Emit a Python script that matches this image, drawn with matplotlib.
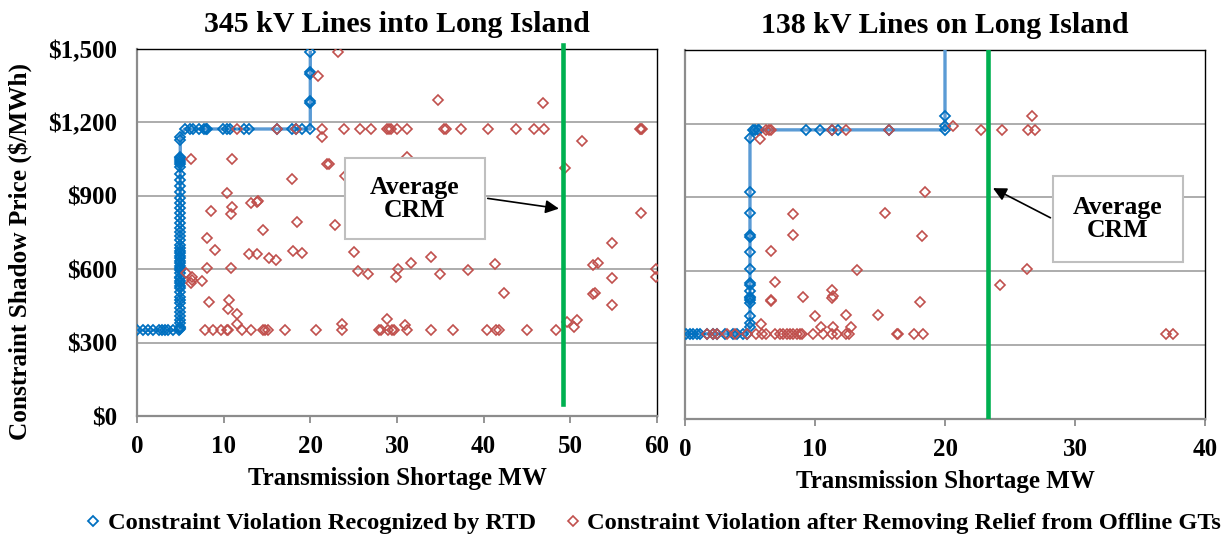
import matplotlib
matplotlib.use("Agg")
import matplotlib.pyplot as plt
from matplotlib.lines import Line2D
from matplotlib.patches import Rectangle
from matplotlib.ticker import FuncFormatter

plt.rcParams["font.family"] = ["Liberation Serif", "DejaVu Serif"]
plt.rcParams["font.weight"] = "bold"

# ---- 345 kV (left panel) ----
# RTD series, read in order along the step: low flat run, x=5 climb,
# flat run at ~$1,173, then the climb at x=20
rtd_345_flat_x = [0, 0.73, 1.3, 1.9, 2.5, 2.85, 3.2, 3.6, 4.2, 4.8]
rtd_345_vert_y = [355, 360, 365, 380, 392, 410, 426, 440, 461, 475, 488, 505, 522,
                  530, 542, 550, 563, 570, 583, 595, 604, 615, 624, 635, 644, 655,
                  665, 675, 685, 700, 719, 735, 753, 770, 787, 810, 828, 850, 869,
                  890, 917, 940, 964, 990, 1019, 1030, 1039, 1045, 1053, 1060, 1128, 1141]
rtd_345_top_x = [5.5, 6.1, 6.5, 7.2, 7.7, 8.0, 8.1, 9.96, 10.35, 10.7, 12.3, 12.95,
                 16.2, 17.85, 18.35, 19.1, 20.0]
rtd_345_end_y = [1278, 1287, 1396, 1407, 1486]

rtd_345_x = (rtd_345_flat_x + [5.0] * len(rtd_345_vert_y) + rtd_345_top_x
             + [20.0] * len(rtd_345_end_y))
rtd_345_y = ([350] * len(rtd_345_flat_x) + rtd_345_vert_y
             + [1173] * len(rtd_345_top_x) + rtd_345_end_y)

gt_345_x = [20.85, 21.3, 21.4, 21.9, 11.6, 16.2, 18.4, 6.23, 11.0, 17.9, 10.4,
            10.96, 10.85, 8.6, 13.15, 13.9, 14.0, 18.5, 14.6, 8.04, 9.0, 12.9,
            13.9, 15.2, 16.1, 18.0, 19.0, 8.04, 10.9, 5.65, 6.3, 6.4, 6.23, 7.5,
            8.3, 10.6, 10.5, 11.6, 11.6,
            7.9, 8.8, 9.65, 10.35, 10.45, 12.1, 13.15, 14.5, 14.8, 15.1, 17.1, 20.6,
            23.2, 34.7, 46.8,
            23.9, 25.7, 27.0, 28.9, 29.1, 29.3, 30.0, 31.2, 35.4, 35.6, 37.35,
            40.5, 43.7, 45.8, 47.0, 58.0, 58.2, 58.3,
            51.4, 31.1, 22.1, 49.4, 24.0, 58.15, 22.85,
            25.0, 25.5, 26.6, 30.1, 29.85, 31.6, 33.9, 35.0, 38.15, 41.35, 42.3,
            54.8, 52.65, 53.15, 54.8, 52.65, 52.8, 54.8, 59.9, 59.9, 49.6, 50.8, 50.4,
            23.6, 27.95, 28.2, 29.0, 29.4, 29.7, 31.1, 33.9, 36.5, 40.4, 41.4,
            41.8, 45.0, 48.4,
            23.6, 28.8, 30.9]
gt_345_y = [1391, 1173, 1141, 1030, 1173, 1173, 1173, 1049, 1052, 967, 913,
            855, 825, 838, 872, 875, 878, 791, 759, 726, 678, 661,
            661, 644, 636, 673, 668, 605, 606, 584, 569, 555, 545, 552,
            466, 474, 439, 417, 376,
            350, 350, 350, 350, 350, 350, 350, 350, 350, 350, 350, 350,
            1486, 1290, 1278,
            1173, 1173, 1173, 1173, 1173, 1173, 1173, 1173, 1173, 1173, 1173,
            1173, 1173, 1173, 1173, 1173, 1173, 1173,
            1124, 1057, 1028, 1012, 981, 828, 779,
            669, 594, 580, 601, 568, 627, 648, 580, 597, 623, 501,
            706, 616, 627, 564, 497, 502, 455, 600, 570, 383, 392, 362,
            350, 350, 350, 350, 350, 350, 350, 350, 350, 350, 350,
            350, 350, 350,
            375, 395, 372]
crm_345 = 49.2

# ---- 138 kV (right panel) ----
rtd_138_x = [0.08, 0.38, 0.64, 0.9, 1.15, 1.67, 2.18, 2.44, 3.08, 3.72, 3.97,
             4.49, 4.75,
             5.0, 5.0, 5.0, 5.0, 5.0, 5.0, 5.0, 5.0, 5.0, 5.0, 5.0, 5.0, 5.0,
             5.0, 5.0, 5.0, 5.0,
             5.2, 5.4, 5.6, 5.7, 9.3, 10.4, 11.3, 11.75, 15.7,
             20.0, 20.0, 20.0, 20.0]
rtd_138_y = [345, 345, 345, 345, 345, 345, 345, 345, 345, 345, 345, 345, 345,
             372, 388, 418, 469, 483, 490, 496, 521, 544, 553, 609, 679, 740,
             746, 836, 922, 1141,
             1175, 1175, 1175, 1175, 1175, 1175, 1175, 1175, 1175,
             1175, 1191, 1233, 1700]

gt_138_x = [20.6, 5.77, 6.2, 6.5, 6.6, 11.3, 12.4, 15.7, 22.8, 24.4, 26.4, 26.9,
            26.7, 18.5, 8.33, 15.4, 8.33, 18.2, 6.6, 13.2, 6.9, 6.6, 6.65, 9.05,
            11.3, 11.4, 11.3, 18.1, 10.0, 12.35, 14.85, 5.87, 10.5, 11.4, 12.8,
            26.3, 24.25,
            1.67, 2.18, 2.44, 3.2, 3.85, 4.75, 5.5, 5.9, 6.2, 6.9, 7.3, 7.56,
            7.87, 8.1, 8.33, 8.6, 8.85, 8.97, 9.87, 10.6, 11.3, 11.7, 12.4, 12.6,
            16.3, 16.4, 17.6, 18.3, 37.0, 37.5]
gt_138_y = [1191, 1139, 1175, 1175, 1175, 1175, 1175, 1175, 1173, 1173, 1173, 1173,
            1233, 922, 833, 836, 746, 743, 681, 605, 555, 483, 478, 495,
            523, 499, 489, 475, 418, 420, 420, 386, 374, 374, 372,
            609, 545,
            345, 345, 345, 345, 345, 345, 345, 345, 345, 345, 345, 345,
            345, 345, 345, 345, 345, 345, 345, 345, 345, 345, 345, 345,
            345, 345, 345, 345, 345, 345]
crm_138 = 23.3

BLUE_LINE = "#5b9bd5"
BLUE = "#0070c0"
RED = "#c0504d"
GREEN = "#00b050"

fig = plt.figure(figsize=(12.26, 5.37), dpi=100)
ax1 = fig.add_axes([0.1117, 0.2253, 0.4242, 0.6835])
ax2 = fig.add_axes([0.5587, 0.2205, 0.4242, 0.6864])


def style(ax, xmax, title):
    ax.set_xlim(0, xmax)
    ax.set_ylim(0, 1500)
    ax.set_xticks(range(0, xmax + 1, 10))
    ax.set_yticks(range(0, 1501, 300))
    ax.yaxis.set_major_formatter(FuncFormatter(lambda v, p: "${:,.0f}".format(v)))
    ax.grid(axis="y", color="#a6a6a6", lw=1.3)
    ax.set_axisbelow(True)
    for s in ["left", "bottom"]:
        ax.spines[s].set_color("#8c8c8c")
        ax.spines[s].set_linewidth(1.6)
    for s in ["top", "right"]:
        ax.spines[s].set_color("black")
        ax.spines[s].set_linewidth(1.0)
    ax.tick_params(axis="x", length=5, width=1.3, color="#8c8c8c", pad=9, labelsize=18)
    ax.tick_params(axis="y", length=0, pad=14, labelsize=18)
    ax.set_title(title, fontsize=21.5, fontweight="bold", pad=12)
    ax.set_xlabel("Transmission Shortage MW", fontsize=18, fontweight="bold")
    ax.xaxis.label.set_va("center")
    ax.xaxis.set_label_coords(0.5, -0.17)


def draw(ax, rx, ry, gx, gy):
    ax.plot(rx, ry, color=BLUE_LINE, lw=2.4, marker="D", ms=5, mfc="none",
            mec=BLUE, mew=1.3, zorder=3)
    ax.plot(gx, gy, ls="none", marker="D", ms=5, mfc="none", mec=RED,
            mew=1.2, zorder=4)


style(ax1, 60, "345 kV Lines into Long Island")
style(ax2, 40, "138 kV Lines on Long Island")
ax2.tick_params(axis="y", labelleft=False)

draw(ax1, rtd_345_x, rtd_345_y, gt_345_x, gt_345_y)
draw(ax2, rtd_138_x, rtd_138_y, gt_138_x, gt_138_y)

ax1.axvline(crm_345, ymin=0.033, ymax=1.01, color=GREEN, lw=3.3, zorder=5, clip_on=False)
ax2.axvline(crm_138, ymin=0.0, ymax=1.0, color=GREEN, lw=3.3, zorder=5)

# callout boxes
ax1.add_patch(Rectangle((24.0, 723), 16.15, 331, fc="white", ec="#bfbfbf", lw=1.5, zorder=6))
ax1.text(32.07, 888, "Average\nCRM", ha="center", va="center", fontsize=18.5,
         fontweight="bold", linespacing=1.0, zorder=7)
ax1.annotate("", xy=(crm_345 - 0.2, 846), xytext=(40.15, 891),
             arrowprops=dict(arrowstyle="-|>", color="black", lw=1.2, mutation_scale=20),
             zorder=7)

ax2.add_patch(Rectangle((28.3, 637), 10.0, 350, fc="white", ec="#bfbfbf", lw=1.5, zorder=6))
ax2.text(33.3, 812, "Average\nCRM", ha="center", va="center", fontsize=18.5,
         fontweight="bold", linespacing=1.0, zorder=7)
ax2.annotate("", xy=(crm_138 + 0.2, 943), xytext=(28.3, 812),
             arrowprops=dict(arrowstyle="-|>", color="black", lw=1.2, mutation_scale=20),
             zorder=7)

fig.text(0.016, 0.531, "Constraint Shadow Price ($/MWh)", rotation=90, ha="center",
         va="center", fontsize=18.2, fontweight="bold")

handles = [Line2D([], [], ls="none", marker="D", ms=5, mfc="none", mec=BLUE, mew=1.3),
           Line2D([], [], ls="none", marker="D", ms=5, mfc="none", mec=RED, mew=1.2)]
labels = ["Constraint Violation Recognized by RTD",
          "Constraint Violation after Removing Relief from Offline GTs"]
fig.legend(handles, labels, loc="center", bbox_to_anchor=(0.532, 0.026), ncol=2,
           frameon=False, fontsize=17.6, handletextpad=0.2, columnspacing=1.1,
           handlelength=0.8)

fig.savefig("out.png", dpi=100)
